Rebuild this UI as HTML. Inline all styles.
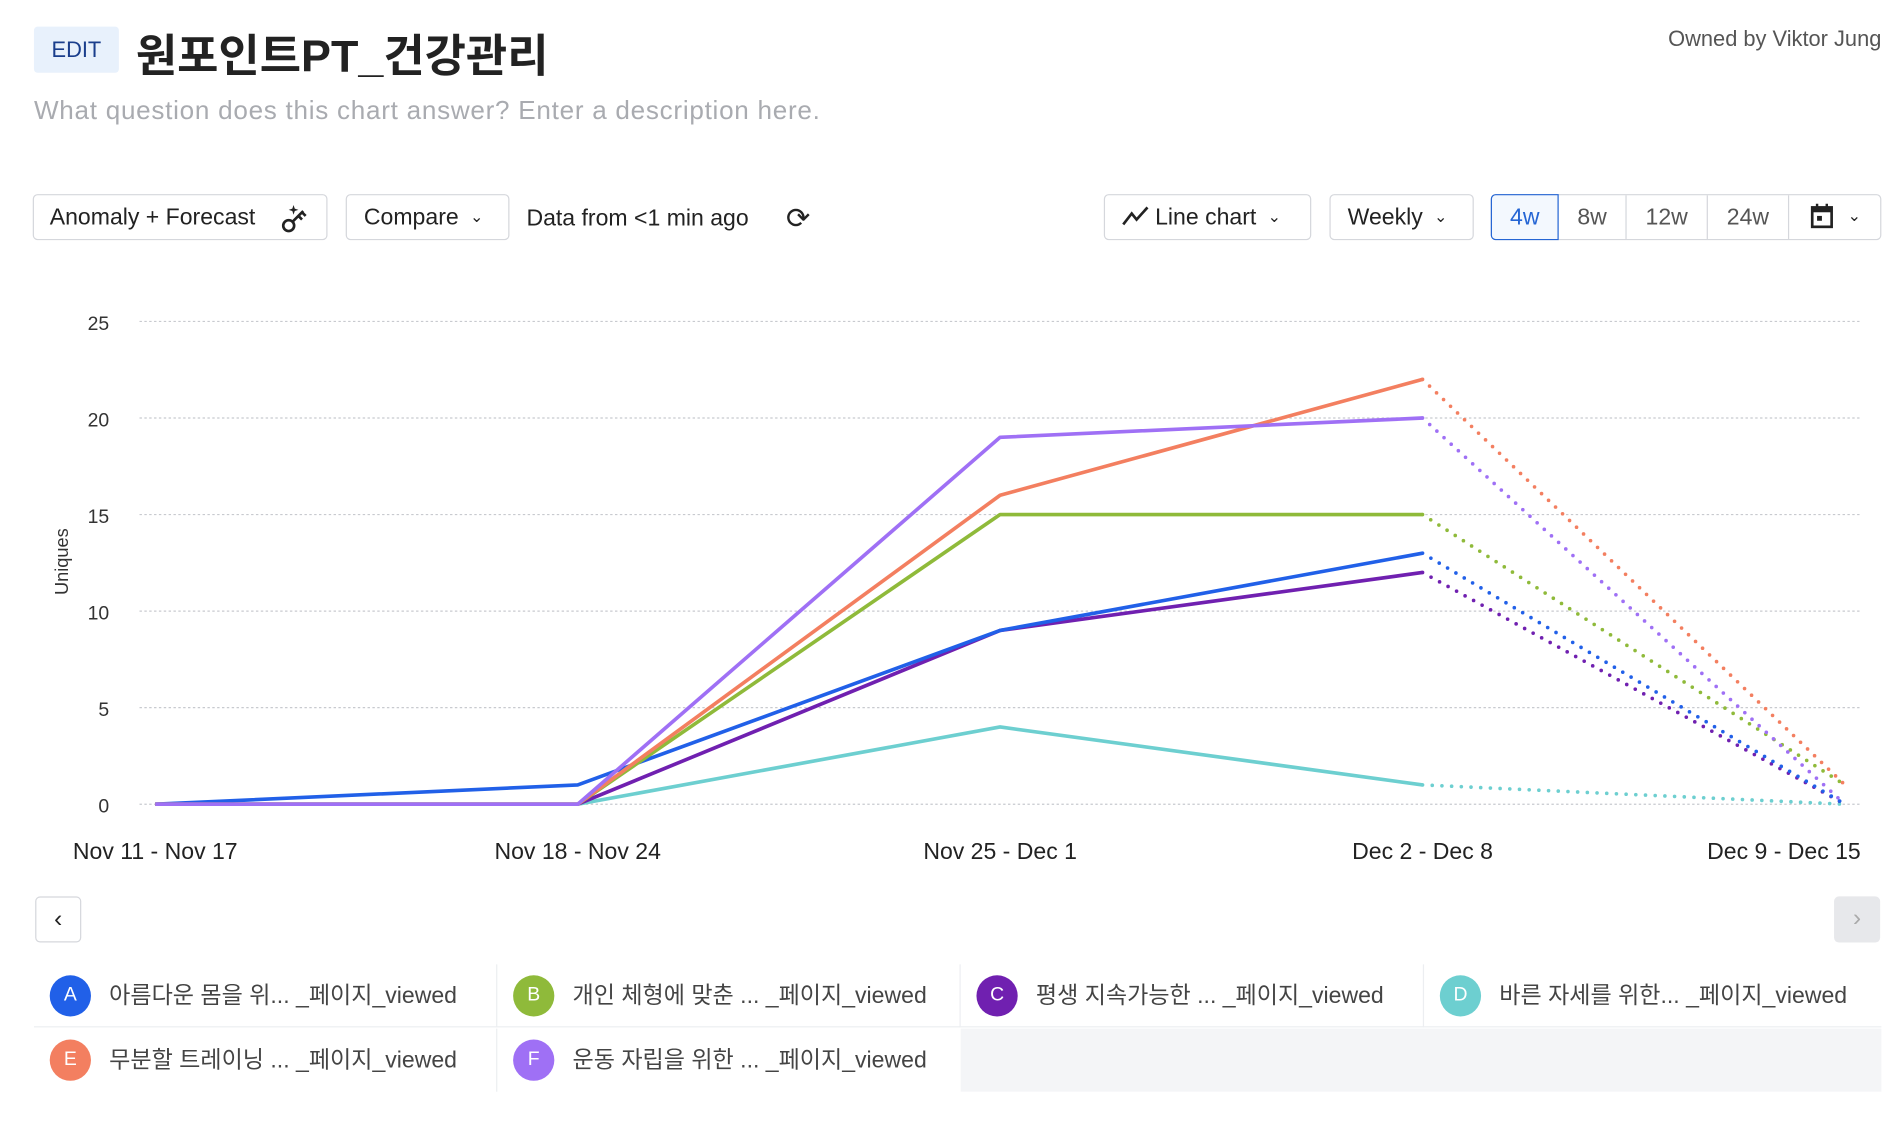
<!DOCTYPE html>
<html><head><meta charset="utf-8">
<style>
html,body{margin:0;padding:0;background:#fff;width:1902px;height:1122px;overflow:hidden}
#wrap{position:absolute;left:0;top:0;width:1568px;height:925px;transform:scale(1.2130);transform-origin:0 0;font-family:"Liberation Sans","Noto Sans CJK KR",sans-serif;color:#222}
.abs{position:absolute}
.btn{position:absolute;top:160px;height:38px;border:1px solid #d5d7dc;border-radius:4px;box-sizing:border-box;font-size:19px;line-height:38px;color:#222;background:#fff}
.seg{position:absolute;top:0;height:36px;line-height:38px;text-align:center;font-size:19px;color:#555;border-left:1px solid #d5d7dc;box-sizing:border-box}
.leg{position:absolute;height:52px;box-sizing:border-box;font-size:19px;color:#444;line-height:54px}
.dot{position:absolute;left:13px;top:9px;width:34px;height:34px;border-radius:50%;color:#fff;text-align:center;line-height:34px;font-size:16px}
.leg span.t{position:absolute;left:62px;top:0;white-space:nowrap}
</style></head><body>
<div id="wrap">
<div class="abs" style="left:28px;top:22px;width:70px;height:38px;background:#e8f1fc;border-radius:3px;color:#1a3e8c;font-size:18px;line-height:38px;text-align:center">EDIT</div>
<div class="abs" style="left:112px;top:16px;font-size:37px;font-weight:bold;color:#222">원포인트PT_건강관리</div>
<div class="abs" style="right:17px;top:22px;font-size:18px;color:#555">Owned by Viktor Jung</div>
<div class="abs" style="left:28px;top:79px;font-size:21.5px;color:#a9abb0;letter-spacing:0.6px">What question does this chart answer? Enter a description here.</div>

<div class="btn" style="left:27px;width:243px;padding-left:13px">Anomaly + Forecast
<svg class="abs" style="left:203px;top:6px" width="26" height="26" viewBox="0 0 26 26"><circle cx="7" cy="19" r="4.5" fill="none" stroke="#222" stroke-width="2.2"/><path d="M10 16 L19 7 M15 11 l3 3 M18 8 l3 3" stroke="#222" stroke-width="2.2" fill="none"/><path d="M11 2 l1 3 3 1 -3 1 -1 3 -1 -3 -3 -1 3 -1z" fill="#222"/></svg></div>
<div class="btn" style="left:285px;width:135px;padding-left:14px">Compare <span style="font-size:13px;position:relative;top:-2px;margin-left:4px">&#8964;</span></div>
<div class="abs" style="left:434px;top:170px;font-size:19px">Data from &lt;1 min ago</div>
<div class="abs" style="left:648px;top:166px;font-size:24px">&#10227;</div>

<div class="btn" style="left:910px;width:171px;padding-left:14px">
<svg width="22" height="16" viewBox="0 0 22 16" style="vertical-align:-1px"><path d="M1 15 L8 6 L12 11 L21 1" stroke="#222" stroke-width="2.2" fill="none"/></svg> Line chart <span style="font-size:13px;position:relative;top:-2px;margin-left:4px">&#8964;</span></div>
<div class="btn" style="left:1096px;width:119px;padding-left:14px">Weekly <span style="font-size:13px;position:relative;top:-2px;margin-left:4px">&#8964;</span></div>
<div class="btn" style="left:1229px;width:322px">
<div class="seg" style="left:-1px;width:56px;border:1.5px solid #2465d4;border-radius:4px 0 0 4px;color:#2465d4;background:#f3f8fe;top:-1px;height:38px;line-height:38px">4w</div>
<div class="seg" style="left:55px;width:55px;border-left:none">8w</div>
<div class="seg" style="left:110px;width:67px">12w</div>
<div class="seg" style="left:177px;width:67px">24w</div>
<div class="seg" style="left:244px;width:77px">
<svg width="20" height="22" viewBox="0 0 20 22" style="vertical-align:-4px"><rect x="2" y="4" width="16" height="16" fill="none" stroke="#222" stroke-width="2.2"/><rect x="2" y="4" width="16" height="4" fill="#222"/><rect x="6" y="11" width="4" height="4" fill="#222"/><path d="M6 1v4M14 1v4" stroke="#222" stroke-width="2"/></svg> <span style="font-size:13px;color:#222;position:relative;top:-3px;margin-left:6px">&#8964;</span></div>
</div>

<svg class="abs" id="chart" style="left:0;top:230px" width="1568" height="490"></svg>

<div class="abs" style="left:29px;top:739px;width:38px;height:38px;border:1px solid #d5d7dc;border-radius:4px;box-sizing:border-box;text-align:center;line-height:36px;font-size:20px">&#8249;</div>
<div class="abs" style="left:1512px;top:739px;width:38px;height:38px;background:#e7e8eb;border-radius:4px;text-align:center;line-height:36px;font-size:20px;color:#aaa">&#8250;</div>

<div class="abs" style="left:28px;top:795px;width:1523px;height:105px">
<div class="leg" style="left:0;top:0;width:382px;border-right:1px solid #eceef1;border-bottom:1px solid #eceef1"><div class="dot" style="background:#2160e8">A</div><span class="t">아름다운 몸을 위... _페이지_viewed</span></div>
<div class="leg" style="left:382px;top:0;width:382px;border-right:1px solid #eceef1;border-bottom:1px solid #eceef1"><div class="dot" style="background:#8fba3a">B</div><span class="t">개인 체형에 맞춘 ... _페이지_viewed</span></div>
<div class="leg" style="left:764px;top:0;width:382px;border-right:1px solid #eceef1;border-bottom:1px solid #eceef1"><div class="dot" style="background:#7020b0">C</div><span class="t">평생 지속가능한 ... _페이지_viewed</span></div>
<div class="leg" style="left:1146px;top:0;width:377px;border-bottom:1px solid #eceef1"><div class="dot" style="background:#6dcfd0">D</div><span class="t">바른 자세를 위한... _페이지_viewed</span></div>
<div class="leg" style="left:0;top:53px;width:382px;border-right:1px solid #eceef1"><div class="dot" style="background:#f37f60">E</div><span class="t">무분할 트레이닝 ... _페이지_viewed</span></div>
<div class="leg" style="left:382px;top:53px;width:382px"><div class="dot" style="background:#9f70f5">F</div><span class="t">운동 자립을 위한 ... _페이지_viewed</span></div>
<div class="leg" style="left:764px;top:53px;width:759px;background:#f4f5f7"></div>
</div>
</div>
<script>
const categories=["Nov 11 - Nov 17","Nov 18 - Nov 24","Nov 25 - Dec 1","Dec 2 - Dec 8","Dec 9 - Dec 15"];
const yTicks=[0,5,10,15,20,25];
const seriesNames=["A","B","C","D","E","F"];
const seriesColors=["#2160e8","#8fba3a","#7020b0","#6dcfd0","#f37f60","#9f70f5"];
const seriesA=[0,1,9,13,0];
const seriesB=[0,0,15,15,1];
const seriesC=[0,0,9,12,0];
const seriesD=[0,0,4,1,0];
const seriesE=[0,0,16,22,1];
const seriesF=[0,0,19,20,0];
const allSeries=[seriesA,seriesB,seriesC,seriesD,seriesE,seriesF];
const drawOrder=[3,2,0,1,4,5];

const svg=document.getElementById('chart');
const NS='http://www.w3.org/2000/svg';
const top0=35,bot=433,yMax=25;
function y(v){return bot-(v/yMax)*(bot-top0);}
function x(i){return 128+i*(1521-128)/(categories.length-1);}
function mk(t,a){const e=document.createElementNS(NS,t);for(const k in a)e.setAttribute(k,a[k]);svg.appendChild(e);return e;}

yTicks.forEach(v=>{
  const g=mk('line',{x1:115,x2:1535,y1:y(v),y2:y(v),stroke:'#c8cacf','stroke-width':1,'stroke-dasharray':'2,2'});
  
  
  const t=mk('text',{x:90,y:y(v)+7,'text-anchor':'end','font-size':16,fill:'#333','font-family':'Liberation Sans, sans-serif'});
  t.textContent=v;
  
  
});
const yt=mk('text',{x:0,y:0,transform:'translate(56,233) rotate(-90)','text-anchor':'middle','font-size':15,fill:'#333','font-family':'Liberation Sans, sans-serif'});
yt.textContent='Uniques';


categories.forEach((c,i)=>{
  const last=i===categories.length-1;
  const t=mk('text',{x:last?1534:x(i),y:478,'text-anchor':last?'end':'middle','font-size':19,fill:'#222','font-family':'Liberation Sans, sans-serif'});
  t.textContent=c;
  
  
});
drawOrder.forEach(si=>{
  const d=allSeries[si];
  const n=d.length;
  let p='';
  for(let i=0;i<n-1;i++)p+=(i?'L':'M')+x(i)+' '+y(d[i]);
  const l=mk('path',{d:p,fill:'none',stroke:seriesColors[si],'stroke-width':3,'stroke-linejoin':'round'});
  
  
  const f=mk('path',{d:'M'+x(n-2)+' '+y(d[n-2])+'L'+x(n-1)+' '+y(d[n-1]),fill:'none',stroke:seriesColors[si],'stroke-width':3,'stroke-dasharray':'0,8','stroke-linecap':'round'});
  
  
});
</script>
</body></html>
